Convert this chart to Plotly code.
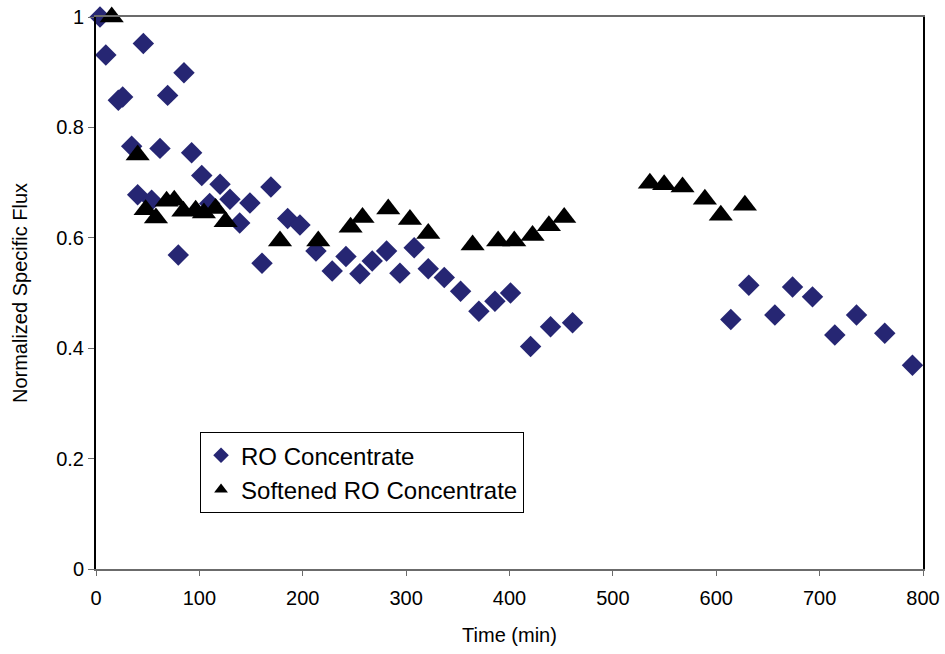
import plotly.graph_objects as go

# RO Concentrate
ro_time = [3.9, 9.5, 21.6, 25.8, 34.5, 40.3, 45.8, 53.8, 61.9, 69.3, 79.6, 85.1, 92.5,
           102.3, 110, 120, 129.6, 139, 148.9, 160.6, 169.2, 185.4, 197.3, 212.8, 228.5,
           241.8, 255.3, 267.2, 281.1, 294, 307.8, 321.4, 336.9, 352.7, 370.4, 385.9,
           401, 420.4, 439.7, 461, 614.1, 631.5, 656.7, 673.8, 693.1, 714.7, 735.7,
           763, 789.8]
ro_flux = [1.0, 0.931, 0.849, 0.855, 0.766, 0.678, 0.952, 0.668, 0.762, 0.858, 0.569,
           0.899, 0.754, 0.713, 0.662, 0.697, 0.670, 0.627, 0.663, 0.554, 0.692, 0.635,
           0.623, 0.576, 0.540, 0.566, 0.535, 0.558, 0.576, 0.536, 0.582, 0.544, 0.528,
           0.503, 0.467, 0.485, 0.500, 0.403, 0.439, 0.446, 0.452, 0.514, 0.460, 0.511,
           0.493, 0.424, 0.460, 0.427, 0.369]

# Softened RO Concentrate
soft_time = [15.2, 40.3, 48, 58, 68.3, 75.7, 84.5, 96.4, 104.4, 115.7, 125.4, 178, 215,
             246.3, 257.8, 282.7, 303.7, 321.4, 364.3, 389, 404.6, 422.3, 438.1, 452.9,
             535.8, 549.6, 567.4, 589, 604.4, 627.7]
soft_flux = [1.0, 0.750, 0.651, 0.636, 0.666, 0.668, 0.648, 0.650, 0.645, 0.653, 0.629,
             0.594, 0.594, 0.619, 0.637, 0.652, 0.633, 0.608, 0.587, 0.594, 0.594, 0.604,
             0.622, 0.637, 0.699, 0.696, 0.692, 0.670, 0.641, 0.659]

x_ticks = [0, 100, 200, 300, 400, 500, 600, 700, 800]
y_ticks = [0, 0.2, 0.4, 0.6, 0.8, 1]
y_tick_labels = ["0", "0.2", "0.4", "0.6", "0.8", "1"]

fig = go.Figure()
fig.add_trace(go.Scatter(
    x=ro_time, y=ro_flux, mode="markers", name="RO Concentrate",
    marker=dict(symbol="diamond", size=16.5, color="#262673", line=dict(width=0)),
    cliponaxis=False,
))
fig.add_trace(go.Scatter(
    x=soft_time, y=soft_flux, mode="markers", name="Softened RO Concentrate",
    marker=dict(symbol="triangle-up", size=21, color="#000000", line=dict(width=0)),
    cliponaxis=False,
))

font_family = "Liberation Sans, Arial, sans-serif"

fig.update_layout(
    width=945, height=654,
    margin=dict(l=96, r=22, t=17, b=85, autoexpand=False),
    paper_bgcolor="white", plot_bgcolor="white",
    font=dict(family=font_family, color="#000000"),
    showlegend=True,
    legend=dict(
        x=0.1258, y=0.248, xanchor="left", yanchor="top",
        bgcolor="white", bordercolor="#000000", borderwidth=1,
        font=dict(size=24, family=font_family, color="#000000"),
        itemsizing="constant",
    ),
    xaxis=dict(
        range=[0, 800], tickvals=x_ticks, ticktext=[str(v) for v in x_ticks],
        showgrid=False, zeroline=False, automargin=False,
        showline=True, linecolor="#6b6b6b", linewidth=2, mirror=True,
        ticks="outside", ticklen=5, tickcolor="#6b6b6b", tickwidth=1,
        tickfont=dict(size=20), ticklabelstandoff=5,
        title=dict(text="Time (min)", font=dict(size=20), standoff=20),
    ),
    yaxis=dict(
        range=[0, 1], tickvals=y_ticks, ticktext=y_tick_labels,
        showgrid=False, zeroline=False, automargin=False,
        showline=True, linecolor="#000000", linewidth=2, mirror=True,
        ticks="outside", ticklen=6, tickcolor="#6b6b6b", tickwidth=1,
        tickfont=dict(size=20),
        title=dict(text="Normalized Specific Flux", font=dict(size=20), standoff=23),
    ),
)

fig.write_html("out.html")
